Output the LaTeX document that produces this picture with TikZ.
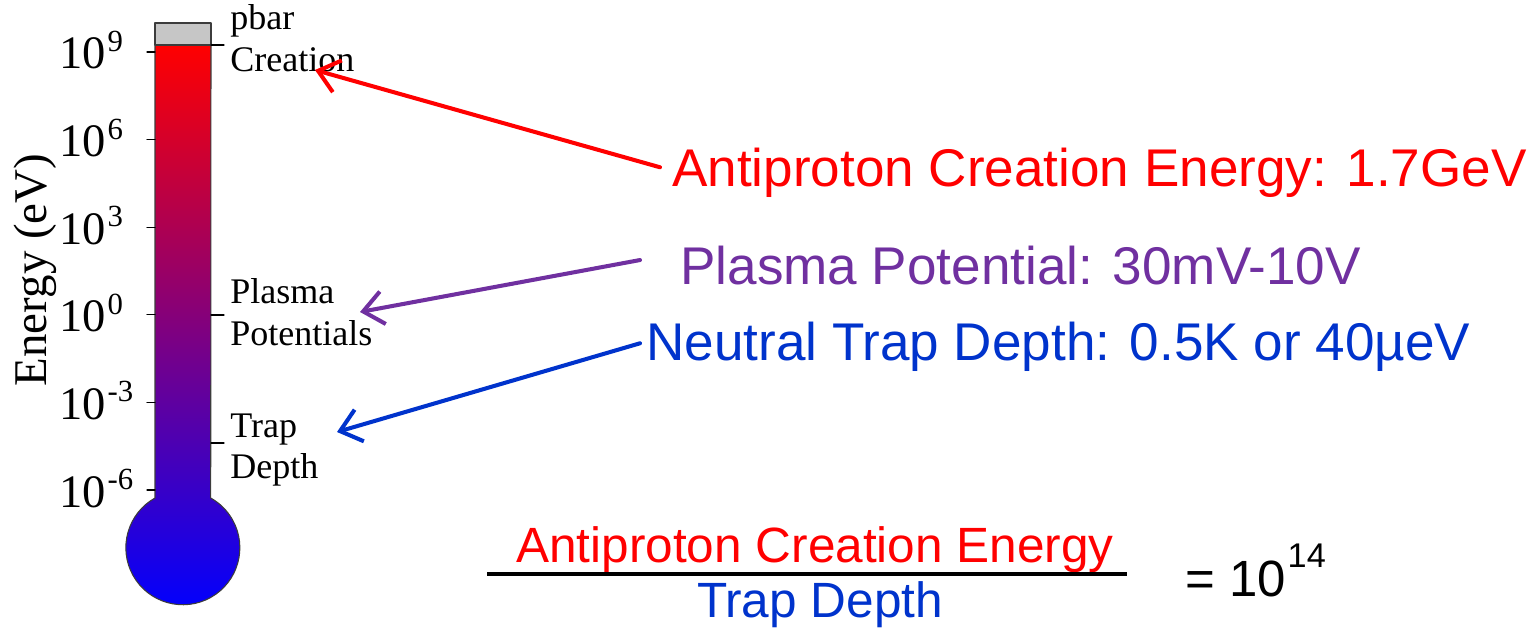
\documentclass[tikz,border=0pt]{standalone}
\usepackage{fontspec}
\setmainfont{Liberation Serif}
\newfontfamily\arial{Liberation Sans}
\usetikzlibrary{arrows.meta}
\definecolor{plasmapurple}{HTML}{7030A0}
\definecolor{trapblue}{HTML}{0033CC}
\definecolor{edgegray}{HTML}{3C3C3C}
\tikzset{
  ticklbl/.style={anchor=base west, inner sep=0, font=\fontsize{26.5}{28}\selectfont},
  sidelbl/.style={anchor=base west, inner sep=0, font=\fontsize{20.5}{22}\selectfont},
  bigtxt/.style={anchor=base west, inner sep=0, font=\arial\fontsize{30.2}{32}\selectfont},
  fractxt/.style={anchor=base, inner sep=0, font=\arial\fontsize{28.2}{30}\selectfont},
  pointer/.style={line width=2.3pt, -{Straight Barb[length=4mm,width=6.6mm,line width=2.3pt]}},
}
\begin{document}
\begin{tikzpicture}[x=0.02cm, y=0.02cm, line join=round, line cap=round]
\useasboundingbox (0,0) rectangle (1529,-635);
% thermometer body
\shade[top color=red, bottom color=blue]
  (155,-45) -- (155,-498) arc[start angle=119.25, end angle=420.75, radius=57] -- (211,-45) -- cycle;
\draw[edgegray, line width=0.6pt]
  (155,-45) -- (155,-498) arc[start angle=119.25, end angle=420.75, radius=57] -- (211,-45);
\draw[edgegray, line width=0.6pt, fill=gray!45] (155,-23) rectangle (211,-45);
% scale on the left
\foreach \e [count=\k from 0] in {9,6,3,0,-3,-6} {
  \draw[line width=0.6pt] (147,-52-87.6*\k) -- (155,-52-87.6*\k);
  \node[ticklbl] (dec\k) at (59,-69-87.6*\k) {10\kern1pt\raisebox{10pt}{\fontsize{17.5}{17.5}\selectfont\e}};
}
\node[rotate=90, inner sep=0, font=\fontsize{26.7}{28}\selectfont] (axis) at (35,-270) {Energy (eV)};
% marks on the right
\draw[line width=0.6pt] (211,-45) -- (224,-45);
\draw[line width=0.6pt] (211,-315) -- (224,-315);
\draw[line width=0.6pt] (211,-443) -- (224,-443);
\node[sidelbl] (pbar) at (230,-30) {pbar};
\node[sidelbl] (creat) at (230,-72) {Creation};
\node[sidelbl] (plasma) at (230,-303) {Plasma};
\node[sidelbl] (potent) at (230,-345) {Potentials};
\node[sidelbl] (trap) at (230,-437) {Trap};
\node[sidelbl] (depth) at (230,-478) {Depth};
% energies
\node[bigtxt, red] (creE) at (672,-187) {Antiproton Creation Energy: 1.7GeV};
\node[bigtxt, plasmapurple] (plasE) at (680,-284) {Plasma Potential: 30mV-10V};
\node[bigtxt, trapblue] (trapE) at (646,-360) {Neutral Trap Depth: 0.5K or 40µeV};
\coordinate (tipC) at (315,-70);
\coordinate (tipP) at (360,-312);
\coordinate (tipT) at (337,-432);
\draw[pointer, red] (creE.west) ++(-12,6) -- (tipC);
\draw[pointer, plasmapurple] (plasE.west) ++(-40,5) -- (tipP);
\draw[pointer, trapblue] (trapE.west) ++(-6,3) -- (tipT);
% ratio
\node[fractxt, red] (fracN) at (815,-562) {Antiproton Creation Energy};
\node[fractxt, trapblue] (fracD) at (820,-617) {Trap Depth};
\draw[line width=2.3pt, line cap=butt] (487,-574) -- (1127,-574);
\node[anchor=base west, inner sep=0, font=\arial\fontsize{29}{30}\selectfont] (ratio) at (1185,-596)
  {= 10\kern1pt\raisebox{16pt}{\fontsize{19.5}{19.5}\selectfont 14}};
\end{tikzpicture}
\end{document}
